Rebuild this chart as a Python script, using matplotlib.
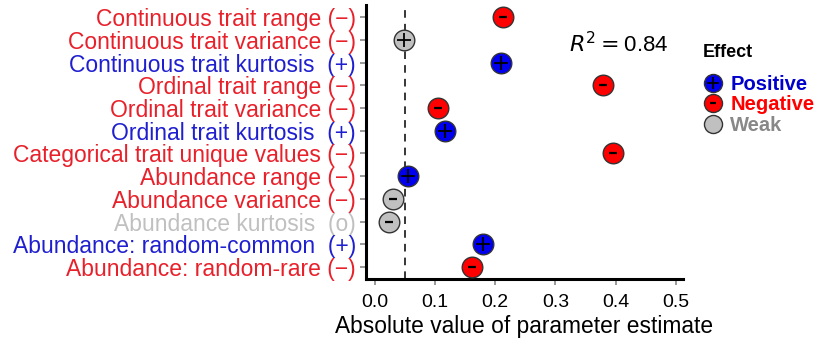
import numpy as np
import matplotlib
matplotlib.use('Agg')
from matplotlib import pyplot as plt
from matplotlib.lines import Line2D

plt.rcParams['font.family'] = ['Liberation Sans', 'DejaVu Sans']

# data
labels = ['Continuous trait range (\u2212)', 'Continuous trait variance (\u2212)',
          'Continuous trait kurtosis  (+)', 'Ordinal trait range (\u2212)',
          'Ordinal trait variance (\u2212)', 'Ordinal trait kurtosis  (+)',
          'Categorical trait unique values (\u2212)', 'Abundance range (\u2212)',
          'Abundance variance (\u2212)', 'Abundance kurtosis  (o)',
          'Abundance: random-common  (+)', 'Abundance: random-rare (\u2212)']
label_kind = ['neg', 'neg', 'pos', 'neg', 'neg', 'pos', 'neg', 'neg', 'neg', 'weak', 'pos', 'neg']
estimate = [0.213, 0.049, 0.209, 0.379, 0.105, 0.117, 0.396, 0.056, 0.030, 0.023, 0.179, 0.162]
effect = ['neg', 'weak', 'pos', 'neg', 'neg', 'pos', 'neg', 'pos', 'weak', 'weak', 'pos', 'neg']
sign = ['-', '+', '+', '-', '-', '+', '-', '+', '-', '-', '+', '-']
threshold = 0.05
r2 = 0.84

fill = {'pos': '#0000ee', 'neg': '#ff0000', 'weak': '#c0c0c0'}
text_col = {'pos': '#1f1fd0', 'neg': '#e8202a', 'weak': '#c0c0c0'}

fig = plt.figure(figsize=(8.33, 3.39), dpi=100)
ax = fig.add_axes([0.439, 0.177, 0.381, 0.808])

ypos = np.arange(1, len(labels) + 1)
ax.axvline(threshold, color='black', ls=(0, (5, 4)), lw=1.1, zorder=1)

for y, x, e, s in zip(ypos, estimate, effect, sign):
    ax.scatter(x, y, s=220, color=fill[e], edgecolor='#333333', linewidth=1.0, zorder=3)
    if s == '+':
        ax.scatter(x, y, s=110, marker='+', color='black', linewidth=1.3, zorder=4)
    else:
        ax.scatter(x, y, s=35, marker='_', color='black', linewidth=1.6, zorder=4)

ax.set_xlim(-0.015, 0.512)
ax.set_ylim(12.53, 0.47)
ax.set_yticks(ypos)
ax.set_yticklabels(labels, fontsize=16.5)
for t, k in zip(ax.get_yticklabels(), label_kind):
    t.set_color(text_col[k])
ax.set_xticks([0.0, 0.1, 0.2, 0.3, 0.4, 0.5])
ax.set_xticklabels(['0.0', '0.1', '0.2', '0.3', '0.4', '0.5'], fontsize=14)
ax.tick_params(axis='both', color='#888888', length=4, width=1.2, pad=3)
ax.tick_params(axis='x', pad=7)
ax.set_xlabel('Absolute value of parameter estimate', fontsize=16.4, labelpad=3)

for sp in ['top', 'right']:
    ax.spines[sp].set_visible(False)
ax.spines['left'].set_linewidth(2.2)
ax.spines['bottom'].set_linewidth(2.2)

ax.text(0.64, 0.855, r'$R^2 = $' + '%.2f' % r2, transform=ax.transAxes,
        fontsize=16, va='center', ha='left')

handles = []
for e, s in [('pos', '+'), ('neg', '_'), ('weak', None)]:
    c = Line2D([], [], marker='o', ls='none', markersize=13, markerfacecolor=fill[e],
               markeredgecolor='#333333')
    if s is None:
        handles.append(c)
    else:
        m = Line2D([], [], marker=s, ls='none', markersize=9 if s == '+' else 5,
                   color='black', markeredgewidth=1.3 if s == '+' else 1.6)
        handles.append((c, m))
fig.text(0.844, 0.845, 'Effect', fontsize=13, fontweight='bold', va='center', ha='left')
leg = fig.legend(handles, ['Positive', 'Negative', 'Weak'],
                 loc='upper left', bbox_to_anchor=(0.832, 0.803), frameon=False,
                 fontsize=14.5, handletextpad=0.25, borderaxespad=0,
                 labelspacing=0.08, handlelength=1.2)
for t, c in zip(leg.get_texts(), ['#0000cc', '#ff0000', '#888888']):
    t.set_color(c)
    t.set_fontweight('bold')

fig.savefig('out.png', dpi=100)
